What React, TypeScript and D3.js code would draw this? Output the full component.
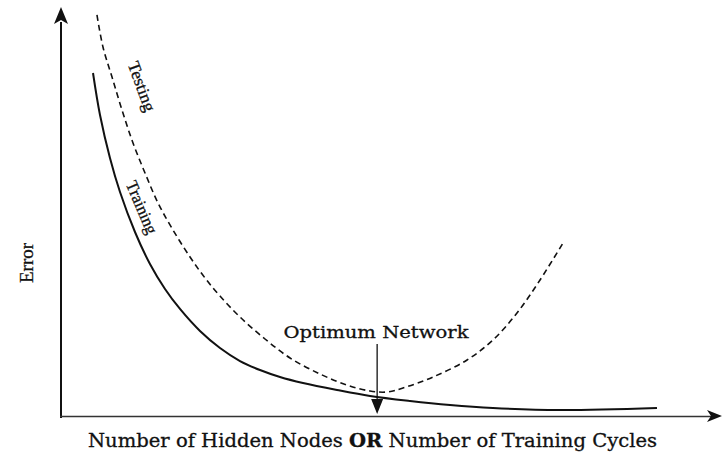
import React from "react";
import * as d3 from "d3";

// Curves (x: 0..100 along axis, y: 0..100 error)
const trainingX = [4.85, 5.91, 7.42, 8.94, 11.21, 13.48, 15.76, 18.03, 21.06, 24.09, 27.12, 30.15, 33.18, 36.67, 41.82, 46.82, 52.88, 58.94, 65.45, 75.61, 90.3];
const trainingY = [84.11, 73.84, 63.33, 55.01, 45.23, 37.41, 31.3, 26.41, 21.03, 16.87, 13.69, 11.49, 9.78, 8.31, 6.6, 5.13, 3.91, 2.93, 2.2, 1.71, 2.2];
const testingX = [5.45, 6.36, 7.73, 9.24, 10.91, 12.73, 14.7, 16.97, 19.55, 21.82, 24.09, 27.12, 30.91, 34.7, 39.24, 43.33, 46.82, 49.39, 51.82, 56.36, 61.52, 65.45, 69.09, 72.58, 76.06];
const testingY = [98.29, 90.46, 83.13, 75.06, 66.99, 59.66, 52.32, 45.72, 39.12, 33.99, 29.58, 24.45, 19.07, 14.43, 10.51, 7.82, 6.36, 6.11, 7.09, 9.78, 13.94, 18.83, 25.43, 33.5, 42.54];
const optimumX = [47.9];
const labels = {
  y: "Error",
  testing: "Testing",
  training: "Training",
  optimum: "Optimum Network",
  xPart1: "Number of Hidden Nodes ",
  xPart2: "OR",
  xPart3: " Number of Training Cycles",
};

const W = 723;
const H = 453;
const X0 = 61;
const X1 = 721;
const Y0 = 417;
const Y1 = 8;

export default function App() {
  const x = d3.scaleLinear().domain([0, 100]).range([X0, X1]);
  const y = d3.scaleLinear().domain([0, 100]).range([Y0, Y1]);
  const line = d3
    .line<[number, number]>()
    .x((d) => x(d[0]))
    .y((d) => y(d[1]))
    .curve(d3.curveCatmullRom.alpha(0.5));
  const train = trainingX.map((v, i) => [v, trainingY[i]] as [number, number]);
  const test = testingX.map((v, i) => [v, testingY[i]] as [number, number]);
  const ox = x(optimumX[0]);
  const font = "'DejaVu Serif', 'Liberation Serif', serif";
  const times = "'Liberation Serif', serif";

  return (
    <svg
      width={W}
      height={H}
      style={{ position: "absolute", left: 0, top: 0, background: "#fff" }}
    >
      <rect width={W} height={H} fill="#fff" />
      {/* axes */}
      <line x1={X0} y1={Y0 + 1} x2={X0} y2={22} stroke="#111" strokeWidth={2} />
      <path d={`M${X0},7 L${X0 - 7},24 L${X0},20 L${X0 + 7},24 Z`} fill="#111" />
      <line x1={X0 - 1} y1={Y0 - 0.5} x2={X1 - 10} y2={Y0 - 0.5} stroke="#333" strokeWidth={1.5} />
      <path d={`M${X1 + 1},${Y0 - 1} L${X1 - 14},${Y0 - 7} L${X1 - 10},${Y0 - 1} L${X1 - 14},${Y0 + 5} Z`} fill="#111" />

      {/* curves */}
      <path d={line(test) || ""} fill="none" stroke="#111" strokeWidth={1.6} strokeDasharray="6,4" />
      <path d={line(train) || ""} fill="none" stroke="#111" strokeWidth={2} />

      {/* curve labels */}
      <text
        transform="translate(140,87) rotate(70)"
        textAnchor="middle"
        dominantBaseline="middle"
        fontFamily={times}
        fontSize={17}
        textLength={52}
        lengthAdjust="spacingAndGlyphs"
        fill="#111"
        stroke="#111"
        strokeWidth={0.3}
      >
        {labels.testing}
      </text>
      <text
        transform="translate(140,208) rotate(67)"
        textAnchor="middle"
        dominantBaseline="middle"
        fontFamily={times}
        fontSize={17}
        textLength={56}
        lengthAdjust="spacingAndGlyphs"
        fill="#111"
        stroke="#111"
        strokeWidth={0.3}
      >
        {labels.training}
      </text>

      {/* optimum annotation */}
      <text
        x={376}
        y={338}
        textAnchor="middle"
        fontFamily={font}
        fontSize={17}
        textLength={185}
        lengthAdjust="spacingAndGlyphs"
        fill="#111"
        stroke="#111"
        strokeWidth={0.3}
      >
        {labels.optimum}
      </text>
      <line x1={ox} y1={344} x2={ox} y2={401} stroke="#111" strokeWidth={1.3} />
      <path d={`M${ox - 6},399 L${ox + 6},399 L${ox},414 Z`} fill="#111" />

      {/* axis titles */}
      <text
        transform="translate(33,263) rotate(-90)"
        textAnchor="middle"
        fontFamily={times}
        fontSize={19}
        textLength={40}
        lengthAdjust="spacingAndGlyphs"
        fill="#111"
        stroke="#111"
        strokeWidth={0.3}
      >
        {labels.y}
      </text>
      <text
        x={372.5}
        y={447}
        textAnchor="middle"
        fontFamily={font}
        fontSize={18}
        textLength={569}
        lengthAdjust="spacingAndGlyphs"
        fill="#111"
        stroke="#111"
        strokeWidth={0.3}
      >
        {labels.xPart1}
        <tspan fontWeight="bold">{labels.xPart2}</tspan>
        {labels.xPart3}
      </text>
    </svg>
  );
}
